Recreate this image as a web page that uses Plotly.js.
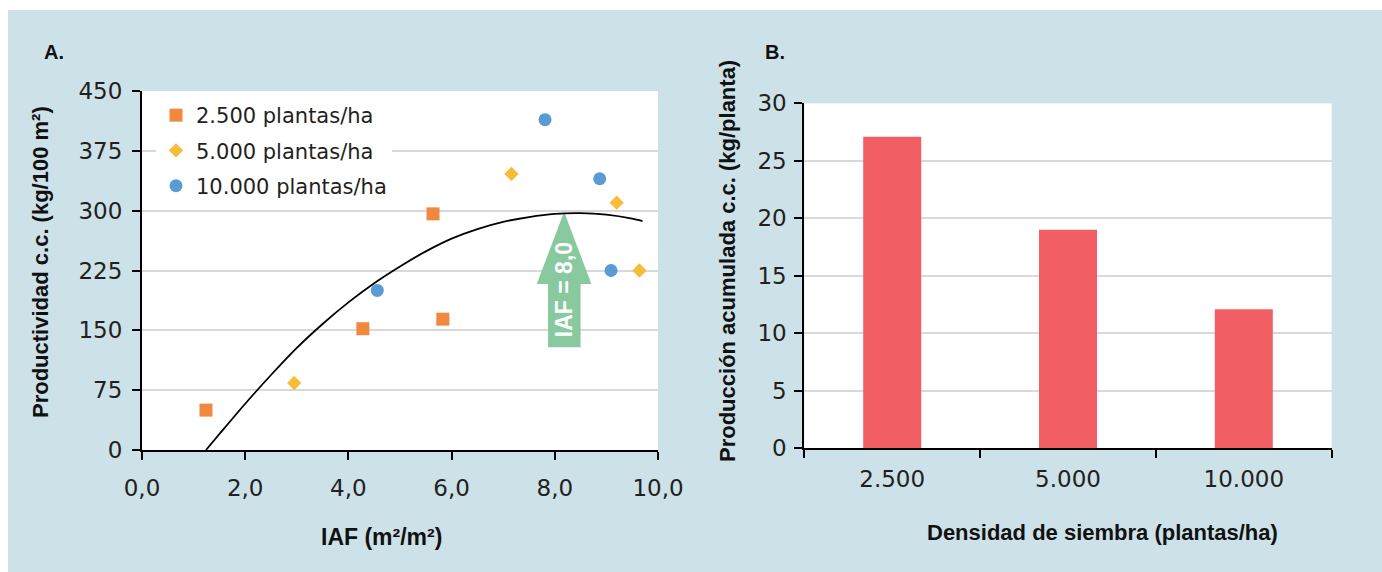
<!DOCTYPE html>
<html><head><meta charset="utf-8">
<script src="https://cdn.plot.ly/plotly-3.0.1.min.js"></script>
<style>html,body{margin:0;padding:0;background:#fff;} #chart{width:1382px;height:572px;}</style>
</head><body><div id="chart"></div>
<script>
// ---------- Panel A data ----------
const seriesNames = ['2.500 plantas/ha', '5.000 plantas/ha', '10.000 plantas/ha'];
const iaf2500 = [1.24, 4.28, 5.64, 5.83];
const prod2500 = [50, 152, 296, 164];
const iaf5000 = [2.95, 7.16, 9.20, 9.64];
const prod5000 = [84, 346, 310, 225];
const iaf10000 = [4.56, 7.81, 8.87, 9.09];
const prod10000 = [200, 414, 340, 225];
const trendX = [1.24, 1.5, 2, 2.5, 3, 3.5, 4, 4.5, 5, 5.5, 6, 6.5, 7, 7.5, 8, 8.5, 9, 9.5, 9.7];
const trendY = [0, 20, 58, 94, 128, 158, 185, 209, 230, 249, 265, 277, 286, 292, 296, 297, 295, 290, 287];
const arrowLabel = 'IAF = 8,0';
// ---------- Panel B data ----------
const densidades = ['2.500', '5.000', '10.000'];
const produccion = [27.1, 19.0, 12.1];

const W = 1382, H = 572;
const px = v => v / W;
const py = v => 1 - v / H;

const tickFont = {family: 'DejaVu Sans', size: 23, color: '#231f20'};
const titleFont = {family: 'Liberation Sans, Arial, sans-serif', size: 22, color: '#111', weight: 'bold'};

const axisCommon = {
  showline: true, linecolor: '#000', linewidth: 2,
  ticks: 'outside', ticklen: 8, tickwidth: 2, tickcolor: '#000',
  tickfont: tickFont, zeroline: false, fixedrange: true
};

const traces = [
  {x: iaf2500, y: prod2500, name: seriesNames[0], legendgroup: 'a', type: 'scatter', mode: 'markers',
   marker: {symbol: 'square', size: 13, color: '#f0893f'}, xaxis: 'x', yaxis: 'y'},
  {x: iaf5000, y: prod5000, name: seriesNames[1], legendgroup: 'b', type: 'scatter', mode: 'markers',
   marker: {symbol: 'diamond', size: 11, color: '#f7bc38'}, xaxis: 'x', yaxis: 'y'},
  {x: iaf10000, y: prod10000, name: seriesNames[2], legendgroup: 'c', type: 'scatter', mode: 'markers',
   marker: {symbol: 'circle', size: 13, color: '#5b9bd5'}, xaxis: 'x', yaxis: 'y'},
  {x: trendX, y: trendY, type: 'scatter', mode: 'lines', showlegend: false,
   line: {color: '#000', width: 1.8, shape: 'spline', smoothing: 0.8}, xaxis: 'x', yaxis: 'y', hoverinfo: 'skip'},
  {x: densidades, y: produccion, type: 'bar', showlegend: false,
   marker: {color: '#f15f65'}, xaxis: 'x2', yaxis: 'y2'}
];

// arrow geometry (layout, in axis units)
const aTip = 8.18, aShaftL = 7.87, aShaftR = 8.50, aHeadL = 7.65, aHeadR = 8.71;
const aBottom = 128.7, aHeadBase = 208, aTop = 298.6;
const arrowPath = `M ${aShaftL},${aBottom} L ${aShaftR},${aBottom} L ${aShaftR},${aHeadBase} L ${aHeadR},${aHeadBase} L ${aTip},${aTop} L ${aHeadL},${aHeadBase} L ${aShaftL},${aHeadBase} Z`;

const layout = {
  width: W, height: H,
  margin: {l: 0, r: 0, t: 0, b: 0},
  paper_bgcolor: '#cde1e8',
  plot_bgcolor: '#ffffff',
  separators: ',.',
  showlegend: true,
  bargap: 0.67,
  legend: {
    x: px(156), y: py(95), xanchor: 'left', yanchor: 'top',
    bgcolor: '#ffffff', borderwidth: 0, tracegroupgap: 5,
    font: {family: 'DejaVu Sans', size: 21, color: '#231f20'}
  },
  xaxis: Object.assign({}, axisCommon, {
    domain: [px(142), px(658)], range: [0, 10], dtick: 2, tick0: 0, tickformat: '.1f',
    showgrid: false, anchor: 'y', ticklabelstandoff: 8
  }),
  yaxis: Object.assign({}, axisCommon, {
    domain: [py(450), py(91)], range: [0, 450], dtick: 75, tick0: 0,
    showgrid: true, gridcolor: '#d9d9d9', gridwidth: 2, anchor: 'x', ticklabelstandoff: 5
  }),
  xaxis2: Object.assign({}, axisCommon, {
    domain: [px(804.3), px(1331.7)], type: 'category', tickson: 'boundaries',
    showgrid: false, anchor: 'y2', ticklabelstandoff: 9
  }),
  yaxis2: Object.assign({}, axisCommon, {
    domain: [py(448.3), py(103.4)], range: [0, 30], dtick: 5, tick0: 0,
    showgrid: true, gridcolor: '#d9d9d9', gridwidth: 2, anchor: 'x2', ticklabelstandoff: 3
  }),
  shapes: [
    {type: 'rect', xref: 'paper', yref: 'paper', x0: 0, x1: px(8), y0: 0, y1: 1,
     fillcolor: '#ffffff', line: {width: 0}, layer: 'below'},
    {type: 'rect', xref: 'paper', yref: 'paper', x0: 0, x1: 1, y0: py(10), y1: 1,
     fillcolor: '#ffffff', line: {width: 0}, layer: 'below'},
    {type: 'path', xref: 'x', yref: 'y', path: arrowPath, fillcolor: '#88c9a0',
     line: {width: 0}, layer: 'between'}
  ],
  annotations: [
    {text: 'A.', xref: 'paper', yref: 'paper', x: px(54), y: py(52), showarrow: false,
     xanchor: 'center', yanchor: 'middle', font: {family: 'Liberation Sans, Arial', size: 20, color: '#111', weight: 'bold'}},
    {text: 'B.', xref: 'paper', yref: 'paper', x: px(775), y: py(52), showarrow: false,
     xanchor: 'center', yanchor: 'middle', font: {family: 'Liberation Sans, Arial', size: 20, color: '#111', weight: 'bold'}},
    {text: 'Productividad c.c. (kg/100 m²)', xref: 'paper', yref: 'paper', x: px(40), y: py(262),
     textangle: -90, showarrow: false, xanchor: 'center', yanchor: 'middle', font: titleFont},
    {text: 'IAF (m²/m²)', xref: 'paper', yref: 'paper', x: px(382), y: py(537),
     showarrow: false, xanchor: 'center', yanchor: 'middle', font: Object.assign({}, titleFont, {size: 23})},
    {text: 'Producción acumulada c.c. (kg/planta)', xref: 'paper', yref: 'paper', x: px(727), y: py(261),
     textangle: -90, showarrow: false, xanchor: 'center', yanchor: 'middle', font: titleFont},
    {text: 'Densidad de siembra (plantas/ha)', xref: 'paper', yref: 'paper', x: px(1102), y: py(532),
     showarrow: false, xanchor: 'center', yanchor: 'middle', font: titleFont},
    {text: arrowLabel, xref: 'x', yref: 'y', x: aTip, y: 200.5, textangle: -90, showarrow: false,
     xanchor: 'center', yanchor: 'middle',
     font: {family: 'Liberation Sans, Arial', size: 23, color: '#ffffff', weight: 'bold'}}
  ]
};

Plotly.newPlot('chart', traces, layout, {displayModeBar: false, staticPlot: true});
</script>
</body></html>
